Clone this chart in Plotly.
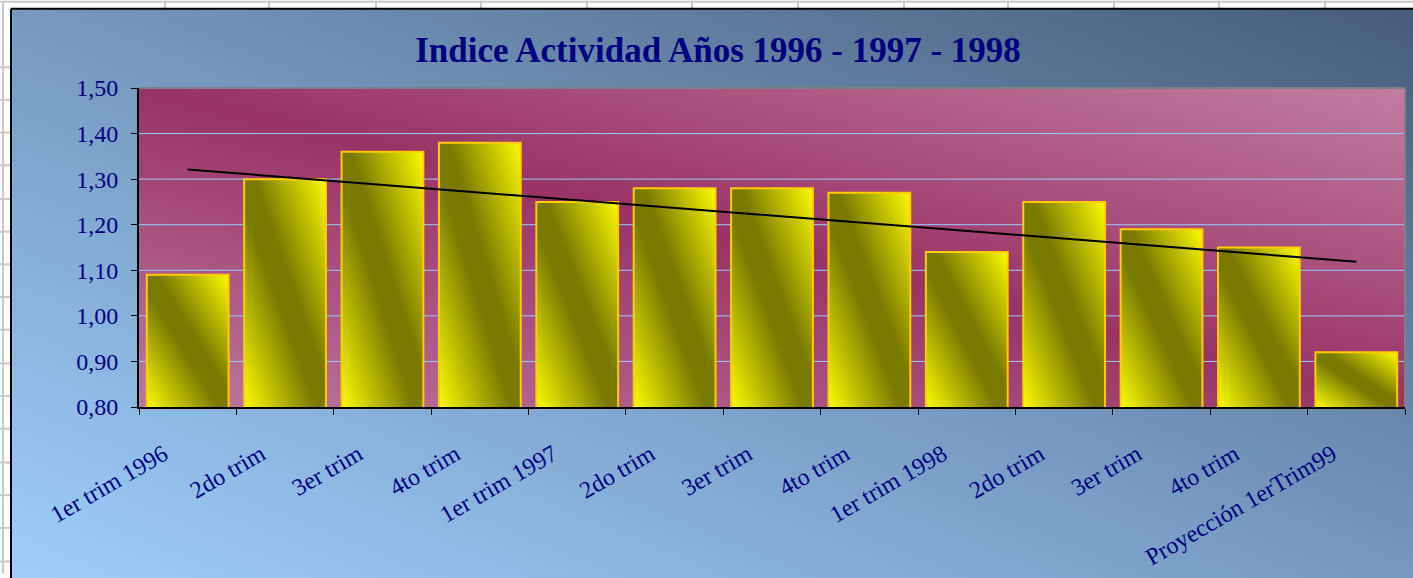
import base64
import numpy as np
import plotly.graph_objects as go

# ---------------- data ----------------
categories = ["1er trim 1996", "2do trim", "3er trim", "4to trim",
              "1er trim 1997", "2do trim", "3er trim", "4to trim",
              "1er trim 1998", "2do trim", "3er trim", "4to trim",
              "Proyección 1erTrim99"]
indice = [1.09, 1.30, 1.36, 1.38,
          1.25, 1.28, 1.28, 1.27,
          1.14, 1.25, 1.19, 1.15,
          0.92]
y_ticks = [0.80, 0.90, 1.00, 1.10, 1.20, 1.30, 1.40, 1.50]
title_text = "Indice Actividad Años 1996 - 1997 - 1998"

# ---------------- geometry / style ----------------
W, H = 1413, 578
L, R, T, B = 139, 8, 88, 168
PW, PH = W - L - R, H - T - B
BAR_W = 0.84
NAVY = "#000080"
FONT = "Liberation Serif"

def px2x(px):
    return (px - L) / PW

def py2y(py):
    return (H - B - py) / PH

def grad_uri(stops, x1, y1, x2, y2):
    st = "".join(f'<stop offset="{o}" stop-color="{c}"/>' for o, c in stops)
    svg = ('<svg xmlns="http://www.w3.org/2000/svg" width="100" height="100" '
           'viewBox="0 0 100 100" preserveAspectRatio="none"><defs>'
           f'<linearGradient id="g" x1="{x1}" y1="{y1}" x2="{x2}" y2="{y2}">{st}</linearGradient>'
           '</defs><rect x="-1" y="-1" width="102" height="102" fill="url(#g)"/></svg>')
    return "data:image/svg+xml;base64," + base64.b64encode(svg.encode()).decode()

chart_bg = grad_uri([(0, "#a0d1fe"), (0.5, "#7699c0"), (1, "#465a78")], 0, 1, 1, 0)
plot_bg = grad_uri([(0, "#be7aa0"), (0.5, "#993366"), (1, "#c27fa3")], 0, 1, 1, 0)
bar_bg = grad_uri([(0, "#ffff00"), (0.44, "#7a7a00"), (0.56, "#7a7a00"), (1, "#ffff00")], 0, 1, 1, 0)

x_idx = list(range(len(categories)))
y_min, y_max = y_ticks[0], y_ticks[-1]

# linear trend line (least squares over the series)
coef = np.polyfit(x_idx, indice, 1)
trend = np.polyval(coef, x_idx)

fig = go.Figure()
fig.add_trace(go.Bar(
    x=x_idx, y=indice, width=BAR_W,
    marker=dict(color="rgba(0,0,0,0)", line=dict(color="#ffcc00", width=2)),
    showlegend=False, hoverinfo="y"))
fig.add_trace(go.Scatter(
    x=x_idx, y=trend, mode="lines",
    line=dict(color="black", width=2), showlegend=False, hoverinfo="skip"))

images = [
    dict(source=chart_bg, xref="paper", yref="paper", x=px2x(11), y=py2y(8),
         sizex=(W + 20 - 11) / PW, sizey=(H + 20 - 8) / PH, sizing="stretch",
         xanchor="left", yanchor="top", layer="below"),
    dict(source=plot_bg, xref="paper", yref="paper", x=0, y=1, sizex=1, sizey=1,
         sizing="stretch", xanchor="left", yanchor="top", layer="below"),
]
for i, v in zip(x_idx, indice):
    images.append(dict(source=bar_bg, xref="x", yref="y", x=i - BAR_W / 2, y=v,
                       sizex=BAR_W, sizey=v - y_min, sizing="stretch",
                       xanchor="left", yanchor="top", layer="below"))

shapes = []
# spreadsheet cells behind the chart
for gx in [165, 269, 376, 481, 587, 692, 798, 904, 1008, 1114, 1219, 1325]:
    shapes.append(dict(type="line", xref="paper", yref="paper",
                       x0=px2x(gx), x1=px2x(gx), y0=py2y(0), y1=py2y(8),
                       line=dict(color="#c8c8c8", width=2), layer="below"))
shapes.append(dict(type="line", xref="paper", yref="paper",
                   x0=px2x(0), x1=px2x(W), y0=py2y(1), y1=py2y(1),
                   line=dict(color="#c8c8c8", width=2), layer="below"))
for gy in [67, 100, 133, 166, 200, 233, 266, 299, 332, 366, 399, 432, 466, 499, 532, 566]:
    shapes.append(dict(type="line", xref="paper", yref="paper",
                       x0=px2x(0), x1=px2x(11), y0=py2y(gy), y1=py2y(gy),
                       line=dict(color="#c8c8c8", width=2), layer="below"))
shapes.append(dict(type="line", xref="paper", yref="paper",
                   x0=px2x(3), x1=px2x(3), y0=py2y(0), y1=py2y(H),
                   line=dict(color="#c8c8c8", width=2), layer="below"))
# chart-area border (left and top edges; the rest lies outside the view)
shapes.append(dict(type="line", xref="paper", yref="paper",
                   x0=px2x(11), x1=px2x(W + 20), y0=py2y(8), y1=py2y(8),
                   line=dict(color="black", width=2), layer="below"))
shapes.append(dict(type="line", xref="paper", yref="paper",
                   x0=px2x(11), x1=px2x(11), y0=py2y(8), y1=py2y(H + 20),
                   line=dict(color="black", width=2), layer="below"))
# horizontal grid lines
for v in y_ticks[1:-1]:
    shapes.append(dict(type="line", xref="paper", yref="y", x0=0, x1=1, y0=v, y1=v,
                       line=dict(color="#99ccff", width=1), layer="below"))
# plot-area border (top and right)
shapes.append(dict(type="line", xref="paper", yref="paper", x0=0, x1=1, y0=1, y1=1,
                   line=dict(color="#808080", width=2), layer="below"))
shapes.append(dict(type="line", xref="paper", yref="paper", x0=1, x1=1, y0=0, y1=1,
                   line=dict(color="#808080", width=2), layer="below"))

fig.update_layout(
    width=W, height=H,
    margin=dict(l=L, r=R, t=T, b=B, pad=0),
    paper_bgcolor="white", plot_bgcolor="rgba(0,0,0,0)",
    separators=",.",
    images=images, shapes=shapes,
    title=dict(text=f"<b>{title_text}</b>", x=718 / W, xref="container", xanchor="center",
               y=1 - 50 / H, yref="container", yanchor="middle",
               font=dict(family=FONT, size=35, color=NAVY)),
    xaxis=dict(range=[-0.5, len(categories) - 0.5], tickmode="array",
               tickvals=x_idx, ticktext=categories, ticks="", tickangle=-30,
               showgrid=False, zeroline=False, showline=True, linecolor="black", linewidth=2,
               tickfont=dict(family=FONT, size=24, color=NAVY),
               ticklabelstandoff=22, ticklabelshift=-24,
               minor=dict(tickmode="linear", tick0=-0.5, dtick=1, ticks="outside",
                          ticklen=6, tickwidth=1, tickcolor="black", showgrid=False)),
    yaxis=dict(range=[y_min, y_max], tickmode="array", tickvals=y_ticks, tickformat=".2f",
               ticks="outside", ticklen=6, tickwidth=1, tickcolor="black",
               showgrid=False, zeroline=False, showline=True, linecolor="black", linewidth=2,
               ticklabelstandoff=8,
               tickfont=dict(family=FONT, size=24, color=NAVY)),
    bargap=0.16,
)

fig.write_html("out.html", config={"displayModeBar": False},
               post_script="document.body.style.margin='0';document.body.style.overflow='hidden';")
